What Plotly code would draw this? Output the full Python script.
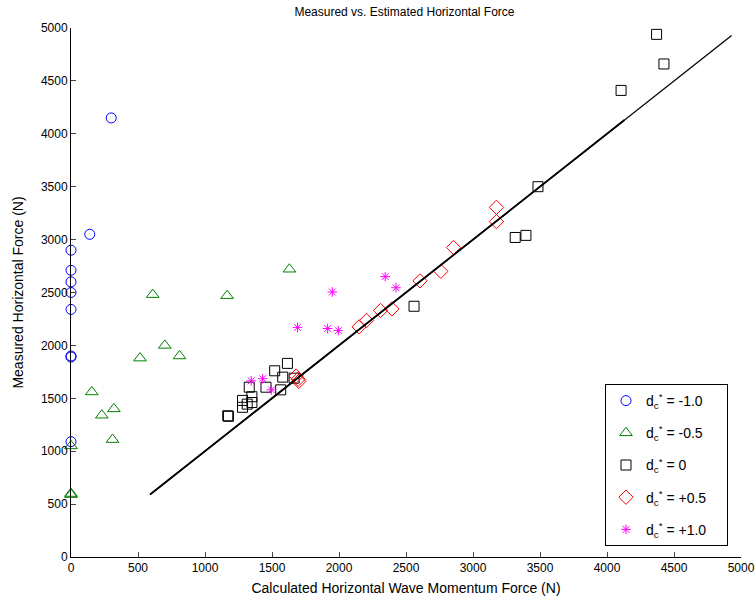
import plotly.graph_objects as go

# d_c* = -1.0 (blue circles)
x_m10 = [300, 140, 0, 0, 0, 0, 0, 0, 0, 0]
y_m10 = [4150, 3050, 2900, 2710, 2600, 2500, 2340, 1900, 1890, 1090]

# d_c* = -0.5 (green triangles)
x_m05 = [610, 1165, 1630, 515, 700, 810, 155, 230, 320, 310, 0, 0, 0]
y_m05 = [2480, 2470, 2720, 1880, 2000, 1900, 1560, 1340, 1400, 1110, 1050, 600, 590]

# d_c* = 0 (black squares)
x_0 = [1615, 1520, 1580, 1330, 1455, 1665, 1565, 1350, 1280, 1315, 1280, 1350, 1175, 1170,
       3315, 3395, 2560, 4370, 4425, 4105, 3485]
y_0 = [1830, 1760, 1700, 1605, 1605, 1690, 1580, 1515, 1480, 1445, 1415, 1460, 1330, 1335,
       3020, 3040, 2370, 4940, 4660, 4410, 3500]

# d_c* = +0.5 (red diamonds)
x_p05 = [3175, 3175, 2855, 2760, 2605, 2395, 2310, 2205, 2150, 1680, 1695, 1700]
y_p05 = [3305, 3170, 2925, 2700, 2610, 2345, 2330, 2235, 2175, 1710, 1680, 1660]

# d_c* = +1.0 (magenta stars)
x_p10 = [2345, 1950, 2425, 1690, 1915, 1995, 1345, 1430, 1495]
y_p10 = [2650, 2505, 2545, 2170, 2160, 2140, 1665, 1685, 1580]

# 1:1 reference lines
line1_x = [590, 4930]
line1_y = [590, 4930]
line2_x = [590, 4130]
line2_y = [590, 4130]

x_ticks = list(range(0, 5001, 500))
y_ticks = list(range(0, 5001, 500))

pad = "&nbsp;&nbsp;&nbsp;&nbsp;"
series = [
    (x_m10, y_m10, "d<sub>c</sub><sup>*</sup> = -1.0" + pad, "circle-open", "#0000FF", 10),
    (x_m05, y_m05, "d<sub>c</sub><sup>*</sup> = -0.5" + pad, "triangle-up-open", "#008000", 11),
    (x_0, y_0, "d<sub>c</sub><sup>*</sup> = 0" + pad, "square-open", "#000000", 10),
    (x_p05, y_p05, "d<sub>c</sub><sup>*</sup> = +0.5" + pad, "diamond-open", "#FF0000", 11),
    (x_p10, y_p10, "d<sub>c</sub><sup>*</sup> = +1.0" + pad, "asterisk-open", "#FF00FF", 8),
]

fig = go.Figure()
for i, (xs, ys, name, sym, col, sz) in enumerate(series):
    fig.add_trace(go.Scatter(
        x=xs, y=ys, mode="markers", name=name, legendgroup=f"g{i}",
        marker=dict(symbol=sym, size=sz, color=col, line=dict(color=col, width=1)),
        cliponaxis=False,
    ))

fig.add_trace(go.Scatter(x=line1_x, y=line1_y, mode="lines", showlegend=False,
                         line=dict(color="black", width=1.3)))
fig.add_trace(go.Scatter(x=line2_x, y=line2_y, mode="lines", showlegend=False,
                         line=dict(color="black", width=1.8)))

font_family = "Liberation Sans, Arial, sans-serif"
fig.update_layout(
    width=756, height=602,
    margin=dict(l=71, r=15, t=28, b=45, autoexpand=False),
    paper_bgcolor="white", plot_bgcolor="white",
    font=dict(family=font_family, size=12, color="black"),
    title=dict(text="Measured vs. Estimated Horizontal Force", x=0.535, xanchor="center",
               y=0.98, yanchor="middle", font=dict(size=12)),
    legend=dict(x=0.797, y=0.327, xanchor="left", yanchor="top",
                bordercolor="black", borderwidth=1, bgcolor="white",
                tracegroupgap=11, font=dict(size=14)),
    xaxis=dict(range=[0, 5000], tickvals=x_ticks, ticks="inside", ticklen=5,
               showline=True, linecolor="black", linewidth=1, showgrid=False, zeroline=False,
               automargin=False,
               title=dict(text="Calculated Horizontal Wave Momentum Force (N)", standoff=8),
               tickfont=dict(size=12)),
    yaxis=dict(range=[0, 5000], tickvals=y_ticks, ticks="inside", ticklen=5,
               showline=True, linecolor="black", linewidth=1, showgrid=False, zeroline=False,
               automargin=False,
               title=dict(text="Measured Horizontal Force (N)", standoff=13),
               tickfont=dict(size=12)),
)

fig.write_html("out.html", config={"displayModeBar": False},
               post_script="document.body.style.margin='0';")
